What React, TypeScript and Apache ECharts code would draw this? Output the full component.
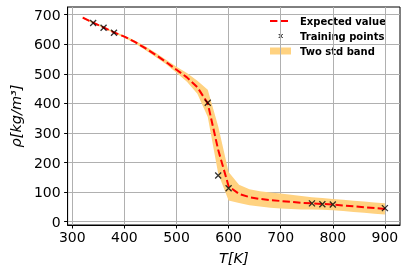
import React, { useEffect, useRef } from "react";
import * as echarts from "echarts";

// Temperature grid of the prediction (K)
const temps = [320, 340, 360, 380, 400, 420, 440, 460, 480, 500, 520, 540, 560, 580, 600, 620, 640, 660, 680, 700, 720, 740, 760, 780, 800, 820, 840, 860, 880, 900];
// Expected density (kg/m^3)
const meanRho = [690, 673, 657, 640, 626, 608, 587, 564, 540, 514, 488, 455, 400, 243, 120, 94, 83, 77, 73, 70, 67, 64, 62, 60, 58, 55, 52, 49, 46, 43];
// Two standard deviations (half-width of the band)
const twoStd = [4, 3, 3, 3, 4, 5, 6, 7, 8, 10, 15, 22, 46, 80, 48, 31, 27, 26, 26, 25, 24, 23, 21, 20, 19, 19, 19, 19, 19, 19];
// Training points
const trainT = [340, 360, 380, 560, 580, 600, 760, 780, 800, 900];
const trainRho = [672, 656, 639, 402, 156, 113, 62, 59, 58, 46];
// Tick labels
const xTicks = [300, 400, 500, 600, 700, 800, 900];
const yTicks = [0, 100, 200, 300, 400, 500, 600, 700];
const legendLabels = ["Expected value", "Training points", "Two std band"];

const BAND = "#FFD280";
const FONT = "DejaVu Sans";

export default function App() {
  const ref = useRef<HTMLDivElement>(null);
  useEffect(() => {
    const chart = echarts.init(ref.current!, null, { renderer: "svg" });
    const band = temps.map((t, i) => [t, meanRho[i] - twoStd[i], meanRho[i] + twoStd[i]]);
    const mean = temps.map((t, i) => [t, meanRho[i]]);
    const train = trainT.map((t, i) => [t, trainRho[i]]);

    const axisCommon = {
      type: "value" as const,
      axisLine: { show: true, onZero: false, lineStyle: { color: "#000", width: 1 } },
      splitLine: { show: true, lineStyle: { color: "#b0b0b0", width: 1 } },
      nameLocation: "middle" as const,
      nameTextStyle: { fontStyle: "italic", fontFamily: FONT, color: "#000", fontSize: 14.5 },
    };

    chart.setOption({
      animation: false,
      grid: { left: 65, right: 6, top: 7, bottom: 49, show: true, borderColor: "#000", borderWidth: 1, backgroundColor: "transparent" },
      xAxis: {
        ...axisCommon,
        min: 291,
        max: 929,
        axisTick: { show: true, length: 3.5, lineStyle: { color: "#000" }, customValues: xTicks },
        axisLabel: { customValues: xTicks, color: "#000", fontSize: 14, fontFamily: FONT, margin: 5 },
        name: "T[K]",
        nameGap: 25,
      },
      yAxis: {
        ...axisCommon,
        min: -11.2,
        max: 726,
        axisTick: { show: true, length: 3.5, lineStyle: { color: "#000" }, customValues: yTicks },
        axisLabel: { customValues: yTicks, color: "#000", fontSize: 14, fontFamily: FONT, margin: 7 },
        name: "ρ[kg/m³]",
        nameGap: 42,
        nameRotate: 90,
      },
      series: [
        {
          name: legendLabels[2],
          type: "custom",
          data: band,
          encode: { x: 0, y: [1, 2] },
          silent: true,
          z: 2,
          renderItem: (params: any, api: any) => {
            if (params.dataIndex !== 0) return null;
            const upper = band.map((d) => api.coord([d[0], d[2]]));
            const lowerPts = band.map((d) => api.coord([d[0], d[1]])).reverse();
            return {
              type: "polygon",
              shape: { points: upper.concat(lowerPts) },
              style: { fill: BAND, stroke: "none" },
            };
          },
        },
        {
          name: legendLabels[0],
          type: "line",
          data: mean,
          symbol: "none",
          lineStyle: { color: "#ff0000", width: 2, type: [7.4, 3.2] },
          z: 3,
        },
        {
          name: legendLabels[1],
          type: "scatter",
          data: train,
          symbol: "path://M0,0L10,10M10,0L0,10",
          symbolSize: 6,
          itemStyle: { color: "transparent", borderColor: "#000", borderWidth: 1.3 },
          z: 4,
        },
      ],
      graphic: [
        {
          type: "group",
          z: 10,
          children: [
            { type: "rect", shape: { x: 262, y: 13, width: 136, height: 45 }, style: { fill: "#fff", stroke: "none" } },
            { type: "line", shape: { x1: 270, y1: 21, x2: 288, y2: 21 }, style: { stroke: "#ff0000", lineWidth: 2, lineDash: [7.4, 3.2] } },
            { type: "line", shape: { x1: 278.7, y1: 34, x2: 282.7, y2: 38 }, style: { stroke: "#000", lineWidth: 1 } },
            { type: "line", shape: { x1: 282.7, y1: 34, x2: 278.7, y2: 38 }, style: { stroke: "#000", lineWidth: 1 } },
            { type: "rect", shape: { x: 270, y: 47.5, width: 21, height: 7 }, style: { fill: BAND } },
            { type: "text", x: 300, y: 21, style: { text: legendLabels[0], font: `bold 10px '${FONT}'`, fill: "#000", verticalAlign: "middle" } },
            { type: "text", x: 300, y: 36, style: { text: legendLabels[1], font: `bold 10px '${FONT}'`, fill: "#000", verticalAlign: "middle" } },
            { type: "text", x: 300, y: 51, style: { text: legendLabels[2], font: `bold 10px '${FONT}'`, fill: "#000", verticalAlign: "middle" } },
          ],
        },
      ],
    });
    return () => chart.dispose();
  }, []);
  return <div ref={ref} style={{ position: "fixed", left: 0, top: 0, width: 406, height: 274 }} />;
}
